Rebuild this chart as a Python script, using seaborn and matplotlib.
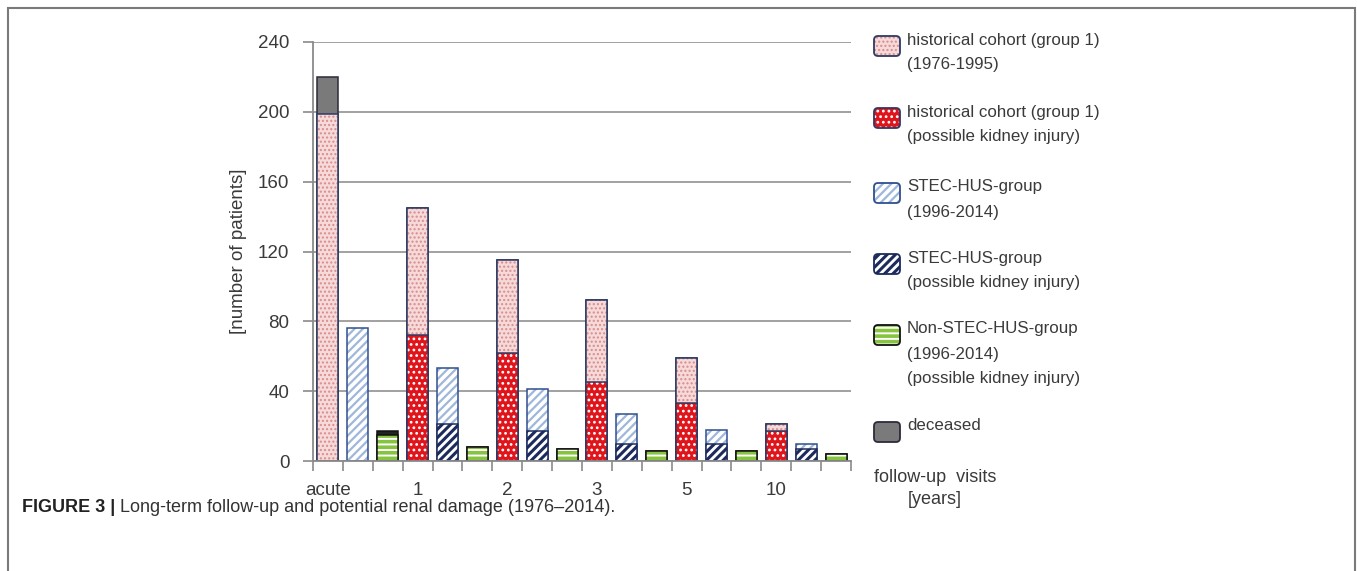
import matplotlib
matplotlib.use("Agg")
import numpy as np
import pandas as pd
import matplotlib.pyplot as plt
import matplotlib.patches as mpatches
from matplotlib.ticker import FixedLocator
import seaborn as sns

# values (number of patients)
groups = ["acute", "1", "2", "3", "5", "10"]
hist_total = [199, 145, 115, 92, 59, 21]
hist_injury = [0, 72, 62, 45, 33, 17]
hist_deceased = [21, 0, 0, 0, 0, 0]
stec_total = [76, 53, 41, 27, 18, 10]
stec_injury = [0, 21, 17, 10, 10, 7]
nonstec_injury = [15, 8, 7, 6, 6, 4]
nonstec_deceased = [2, 0, 0, 0, 0, 0]

legend_labels = [
    ["historical cohort (group 1)", "(1976-1995)"],
    ["historical cohort (group 1)", "(possible kidney injury)"],
    ["STEC-HUS-group", "(1996-2014)"],
    ["STEC-HUS-group", "(possible kidney injury)"],
    ["Non-STEC-HUS-group", "(1996-2014)", "(possible kidney injury)"],
    ["deceased"],
]

kinds = ["h", "s", "n"]
slots = [f"{g}-{k}" for g in groups for k in kinds]

# style per series: face, hatch, hatch colour, hatch width, outline
styles = {
    "hist": ("#f6dada", "....", "#d98c8c", 1.0, "#2b3a66"),
    "hist_inj": ("#e0151b", "...", "#ffffff", 1.2, "#2b3a66"),
    "stec": ("#ffffff", "////", "#9fb7da", 1.6, "#2f4f8f"),
    "stec_inj": ("#ffffff", "////", "#1c2b5c", 2.2, "#1c2b5c"),
    "nonstec": ("#ffffff", "---", "#86c440", 2.6, "#111111"),
    "dead": ("#7a7a7a", None, "#7a7a7a", 1.0, "#2b2b3a"),
    "dead_n": ("#222222", None, "#222222", 1.0, "#111111"),
}

sns.set_style("white")
plt.rcParams["font.family"] = ["Liberation Sans", "DejaVu Sans"]
TXT = "#3a3a3a"

W, H = 1357, 571
fig = plt.figure(figsize=(W / 100, H / 100), dpi=100)
ax = fig.add_axes([313 / W, 1 - 461 / H, (851 - 313) / W, (461 - 42) / H])


def draw_layer(kind, values, style):
    face, hatch, hcol, hlw, edge = styles[style]
    names = [f"{g}-{kind}" for g, v in zip(groups, values) if v > 0]
    vals = [v for v in values if v > 0]
    df = pd.DataFrame({"slot": names, "n": vals})
    start = len(ax.patches)
    plt.rcParams["hatch.linewidth"] = hlw
    sns.barplot(data=df, x="slot", y="n", order=slots, color=face,
                saturation=1, width=0.7, errorbar=None, ax=ax)
    for p in ax.patches[start:]:
        p.set_facecolor(face)
        p.set_edgecolor(hcol)
        p.set_linewidth(0)
        if hatch:
            p.set_hatch(hatch)
        if hasattr(p, "set_hatch_linewidth"):
            p.set_hatch_linewidth(hlw)
        ax.add_patch(mpatches.Rectangle(p.get_xy(), p.get_width(), p.get_height(),
                                        fill=False, ec=edge, lw=1.1))


draw_layer("h", np.add(hist_total, hist_deceased), "dead")
draw_layer("h", hist_total, "hist")
draw_layer("h", hist_injury, "hist_inj")
draw_layer("s", stec_total, "stec")
draw_layer("s", stec_injury, "stec_inj")
draw_layer("n", np.add(nonstec_injury, nonstec_deceased), "dead_n")
draw_layer("n", nonstec_injury, "nonstec")

ax.set_ylim(0, 240)
ax.set_xlim(-0.5, len(slots) - 0.5)
ax.set_yticks(range(0, 241, 40))
ax.set_xticks([i * 3 for i in range(len(groups))])
ax.set_xticklabels(groups)
ax.xaxis.set_minor_locator(FixedLocator(np.arange(-0.5, len(slots), 1)))
ax.tick_params(axis="x", which="major", length=0, pad=15, labelsize=13.5, colors=TXT)
ax.tick_params(axis="x", which="minor", length=7, width=1.2, color="#8a8a8a", direction="out", bottom=True)
ax.tick_params(axis="y", length=7, width=1.2, color="#8a8a8a", direction="out", left=True,
               pad=10, labelsize=13.5, labelcolor=TXT)
ax.set_xlabel("")
ax.set_ylabel("[number of patients]", fontsize=13.5, color=TXT, labelpad=8)
ax.grid(axis="y", color="#9a9a9a", lw=1.3)
ax.set_axisbelow(True)
sns.despine(ax=ax, top=True, right=True)
for s in ("left", "bottom"):
    ax.spines[s].set_color("#8a8a8a")
    ax.spines[s].set_linewidth(1.3)

fig.text(935 / W, 1 - 478 / H, "follow-up  visits", ha="center", va="center", fontsize=13, color=TXT)
fig.text(935 / W, 1 - 500 / H, "[years]", ha="center", va="center", fontsize=13, color=TXT)

# legend, laid out like the original (key beside the first line of each entry)
legend_styles = ["hist", "hist_inj", "stec", "stec_inj", "nonstec", "dead"]
first_line_y = [40, 112, 187, 258, 329, 426]
for st, lines, y0 in zip(legend_styles, legend_labels, first_line_y):
    face, hatch, hcol, hlw, edge = styles[st]
    xy = (874 / 100, (H - y0 - 16) / 100)
    plt.rcParams["hatch.linewidth"] = hlw
    box = dict(boxstyle="round,pad=0,rounding_size=0.04", transform=fig.dpi_scale_trans)
    fig.add_artist(mpatches.FancyBboxPatch(xy, 0.26, 0.2, fc=face, ec=hcol, lw=0,
                                           hatch=hatch, **box))
    fig.add_artist(mpatches.FancyBboxPatch(xy, 0.26, 0.2, fill=False, ec=edge, lw=1.3, **box))
    for i, line in enumerate(lines):
        fig.text(907 / W, 1 - (y0 + 25 * i) / H, line, ha="left", va="center",
                 fontsize=12.2, color=TXT)

# frame and caption
fig.add_artist(mpatches.Rectangle((8 / W, -0.1), (1355 - 8) / W, 1.1 - 8 / H,
                                  transform=fig.transFigure, fill=False, ec="#7a7a7a", lw=1.5))
cap = fig.text(22 / W, 1 - 508 / H, "FIGURE 3 |", ha="left", va="center",
               fontsize=13, fontweight="bold", color="#222222")
fig.canvas.draw()
bb = cap.get_window_extent()
fig.text((bb.x1 + 5) / W, 1 - 508 / H,
         "Long-term follow-up and potential renal damage (1976\u20132014).",
         ha="left", va="center", fontsize=13, color="#333333")

fig.savefig("out.png", dpi=100)
